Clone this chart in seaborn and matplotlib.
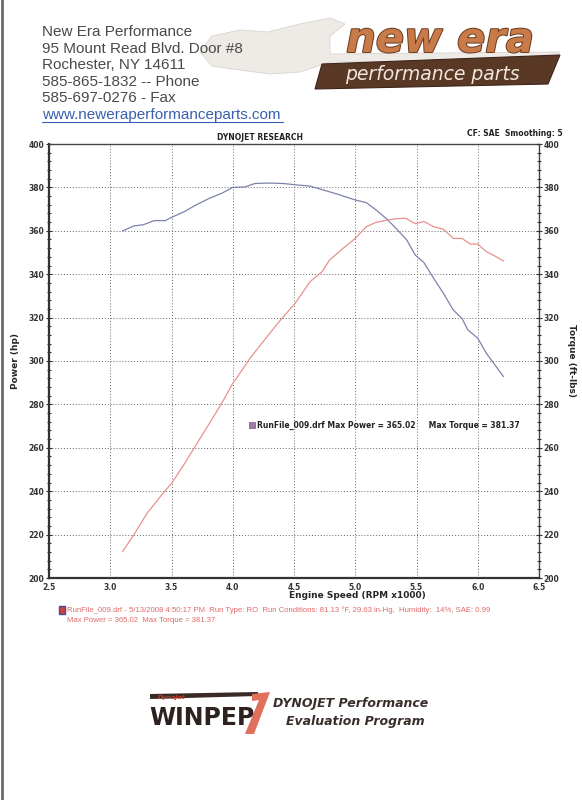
import numpy as np
import pandas as pd
import matplotlib
matplotlib.use("Agg")
import matplotlib.pyplot as plt
import matplotlib.patheffects as pe
from matplotlib.patches import Polygon
from matplotlib.ticker import MultipleLocator
import seaborn as sns

# dyno sheet data
torque_rpm = [3.10, 3.19, 3.27, 3.36, 3.45, 3.50, 3.60, 3.70, 3.81, 3.91, 4.00, 4.10,
              4.18, 4.30, 4.41, 4.55, 4.63, 4.74, 4.86, 5.00, 5.09, 5.17, 5.26, 5.34,
              5.42, 5.49, 5.56, 5.64, 5.72, 5.80, 5.87, 5.92, 6.00, 6.07, 6.14, 6.21]
torque = [359.9, 362.2, 362.8, 364.7, 364.7, 366.2, 368.7, 371.9, 375.0, 377.3, 380.0, 380.2,
          381.8, 382.0, 381.8, 381.0, 380.6, 378.8, 376.8, 374.2, 373.0, 369.6, 365.3, 360.7,
          355.8, 348.8, 345.4, 338.1, 331.2, 323.5, 319.7, 314.3, 310.5, 303.6, 298.2, 292.8]

power_rpm = [3.10, 3.20, 3.30, 3.43, 3.50, 3.60, 3.70, 3.81, 3.91, 4.00, 4.03, 4.14,
             4.28, 4.39, 4.51, 4.63, 4.73, 4.79, 4.90, 5.00, 5.09, 5.17, 5.27, 5.32,
             5.41, 5.49, 5.56, 5.64, 5.72, 5.80, 5.87, 5.94, 6.00, 6.07, 6.14, 6.21]
power = [212.1, 220.6, 229.8, 239.0, 243.6, 252.1, 261.3, 271.3, 280.5, 289.7, 292.0, 301.2,
         311.2, 318.9, 326.6, 336.5, 341.2, 346.5, 351.9, 356.5, 361.9, 363.9, 365.0, 365.5,
         365.8, 363.3, 364.3, 361.9, 360.7, 356.5, 356.5, 353.9, 353.9, 350.4, 348.4, 346.1]

header_lines = ["New Era Performance", "95 Mount Read Blvd. Door #8", "Rochester, NY 14611",
                "585-865-1832 -- Phone", "585-697-0276 - Fax"]
url = "www.neweraperformanceparts.com"
run_info = ("RunFile_009.drf - 5/13/2008 4:50:17 PM  Run Type: RO  Run Conditions: 81.13 \u00b0F, "
            "29.63 in-Hg,  Humidity:  14%, SAE: 0.99")
max_info = "Max Power = 365.02  Max Torque = 381.37"

df = pd.concat([
    pd.DataFrame({"rpm": torque_rpm, "value": torque, "curve": "Torque"}),
    pd.DataFrame({"rpm": power_rpm, "value": power, "curve": "Power"}),
])

sns.set_style("white")
plt.rcParams["font.family"] = ["DejaVu Sans"]

W, H = 582, 800
fig = plt.figure(figsize=(W / 100, H / 100), dpi=100)
fig.patch.set_facecolor("white")


def fx(px):
    return px / W


def fy(py):
    return 1 - py / H


# scan border on the left
fig.add_artist(plt.Line2D([fx(1.5), fx(1.5)], [0, 1], color="#6a6a6a", lw=2))

# company logo (wrench swoosh, wordmark, banner) drawn first so the address sits on top
swoosh = Polygon([(fx(200), fy(52)), (fx(212), fy(36)), (fx(240), fy(30)), (fx(268), fy(32)),
                  (fx(300), fy(24)), (fx(330), fy(18)), (fx(345), fy(24)), (fx(330), fy(36)),
                  (fx(330), fy(54)), (fx(560), fy(52)), (fx(550), fy(60)), (fx(330), fy(62)),
                  (fx(300), fy(72)), (fx(270), fy(74)), (fx(240), fy(70)), (fx(212), fy(66))],
                 closed=True, transform=fig.transFigure, fc="#eeebe7", ec="#d8d3cd", lw=0.6)
fig.add_artist(swoosh)
banner = Polygon([(fx(322), fy(64)), (fx(560), fy(55)), (fx(548), fy(84)), (fx(315), fy(89))],
                 closed=True, transform=fig.transFigure, fc="#5a3826", ec="#3d2418", lw=0.8)
fig.add_artist(banner)
fig.text(fx(440), fy(40), "new era", fontsize=30, fontweight="bold", style="italic",
         color="#c87a48", ha="center", va="center", family="DejaVu Sans",
         path_effects=[pe.withStroke(linewidth=1.4, foreground="#6b3a1e")])
fig.text(fx(432), fy(75), "performance parts", fontsize=13.5, style="italic",
         color="#f1e6dc", ha="center", va="center", family="DejaVu Sans")

# address block
for i, line in enumerate(header_lines):
    fig.text(fx(42), fy(32 + i * 16.6), line, fontsize=11, color="#4a4a4a",
             family="Liberation Sans", va="center")
fig.text(fx(42), fy(115), url, fontsize=11, color="#3a5fb0",
         family="Liberation Sans", va="center")
fig.add_artist(plt.Line2D([fx(42), fx(283)], [fy(122), fy(122)], color="#3a5fb0", lw=0.8))

# chart
ax = fig.add_axes([fx(49), fy(578), fx(539) - fx(49), fy(144) - fy(578)])
sns.lineplot(data=df, x="rpm", y="value", hue="curve", sort=False,
             palette={"Torque": "#7c82ab", "Power": "#e8928c"},
             linewidth=0.9, legend=False, ax=ax)

ax.set_xlim(2.5, 6.5)
ax.set_ylim(200, 400)
ax.xaxis.set_major_locator(MultipleLocator(0.5))
ax.xaxis.set_minor_locator(MultipleLocator(0.1))
ax.yaxis.set_major_locator(MultipleLocator(20))
ax.yaxis.set_minor_locator(MultipleLocator(4))
ax.xaxis.set_major_formatter(matplotlib.ticker.FormatStrFormatter("%.1f"))
ax.grid(True, which="major", color="#666666", linestyle=(0, (1, 2)), linewidth=0.7)
for side in ["left", "bottom"]:
    ax.spines[side].set_linewidth(1.6)
    ax.spines[side].set_color("#333333")
for side in ["top", "right"]:
    ax.spines[side].set_linewidth(1.0)
    ax.spines[side].set_color("#444444")
ax.tick_params(which="both", direction="inout", labelsize=5.5, colors="#333333",
               length=4, width=0.8, pad=1.5)
ax.tick_params(which="minor", length=3)
for lab in ax.get_xticklabels() + ax.get_yticklabels():
    lab.set_fontweight("bold")
ax.set_xlabel("Engine Speed (RPM x1000)", fontsize=6.5, fontweight="bold", labelpad=2)
ax.xaxis.set_label_coords(0.63, -0.03)
ax.set_ylabel("Power (hp)", fontsize=6.5, fontweight="bold", labelpad=6)

ax2 = ax.twinx()
ax2.set_ylim(200, 400)
ax2.yaxis.set_major_locator(MultipleLocator(20))
ax2.yaxis.set_minor_locator(MultipleLocator(4))
ax2.tick_params(which="both", direction="inout", labelsize=5.5, colors="#333333",
                length=4, width=0.8, pad=1.5)
ax2.tick_params(which="minor", length=3)
for lab in ax2.get_yticklabels():
    lab.set_fontweight("bold")
for s in ax2.spines.values():
    s.set_visible(False)
ax2.set_ylabel("Torque (ft-lbs)", fontsize=6.5, fontweight="bold", rotation=270, labelpad=12)

fig.text(fx(260), fy(138), "DYNOJET RESEARCH", fontsize=5.5, fontweight="bold",
         ha="center", va="center", color="#222222")
fig.text(fx(563), fy(133), "CF: SAE  Smoothing: 5", fontsize=5.5, fontweight="bold",
         ha="right", va="center", color="#222222")

# in-plot legend text
fig.add_artist(Polygon([(fx(249), fy(422)), (fx(255), fy(422)), (fx(255), fy(428)), (fx(249), fy(428))],
                       closed=True, transform=fig.transFigure, fc="#a07aa8", ec="#6a5a80", lw=0.5))
fig.text(fx(257), fy(425), "RunFile_009.drf Max Power = 365.02     Max Torque = 381.37",
         fontsize=5.5, fontweight="bold", va="center", color="#222222")

# run notes under chart
fig.add_artist(Polygon([(fx(59), fy(606)), (fx(65), fy(606)), (fx(65), fy(614)), (fx(59), fy(614))],
                       closed=True, transform=fig.transFigure, fc="#d04040", ec="#4050a0", lw=1.0))
fig.text(fx(67), fy(610), run_info, fontsize=5.6, color="#e06a6a", va="center",
         family="Liberation Sans")
fig.text(fx(67), fy(620), max_info, fontsize=5.6, color="#e06a6a", va="center",
         family="Liberation Sans")

# WinPEP footer logo
fig.add_artist(Polygon([(fx(150), fy(694)), (fx(258), fy(692)), (fx(258), fy(696)), (fx(150), fy(699))],
                       closed=True, transform=fig.transFigure, fc="#3a2a24", lw=0))
fig.text(fx(158), fy(697), "DynoJet", fontsize=4.5, fontweight="bold", style="italic",
         color="#c0392b", va="center")
fig.text(fx(149), fy(718), "WINPEP", fontsize=17, fontweight="bold", color="#2e2220",
         va="center", family="Liberation Sans Narrow")
fig.add_artist(Polygon([(fx(252), fy(694)), (fx(270), fy(692)), (fx(254), fy(734)), (fx(245), fy(734)),
                        (fx(259), fy(700)), (fx(252), fy(701))],
                       closed=True, transform=fig.transFigure, fc="#e06f5c", lw=0))
fig.text(fx(273), fy(704), "DYNOJET Performance", fontsize=9, fontweight="bold", style="italic",
         color="#3a2e2a", va="center")
fig.text(fx(286), fy(721), "Evaluation Program", fontsize=9, fontweight="bold", style="italic",
         color="#3a2e2a", va="center")

fig.savefig("out.png", dpi=100, facecolor="white")
